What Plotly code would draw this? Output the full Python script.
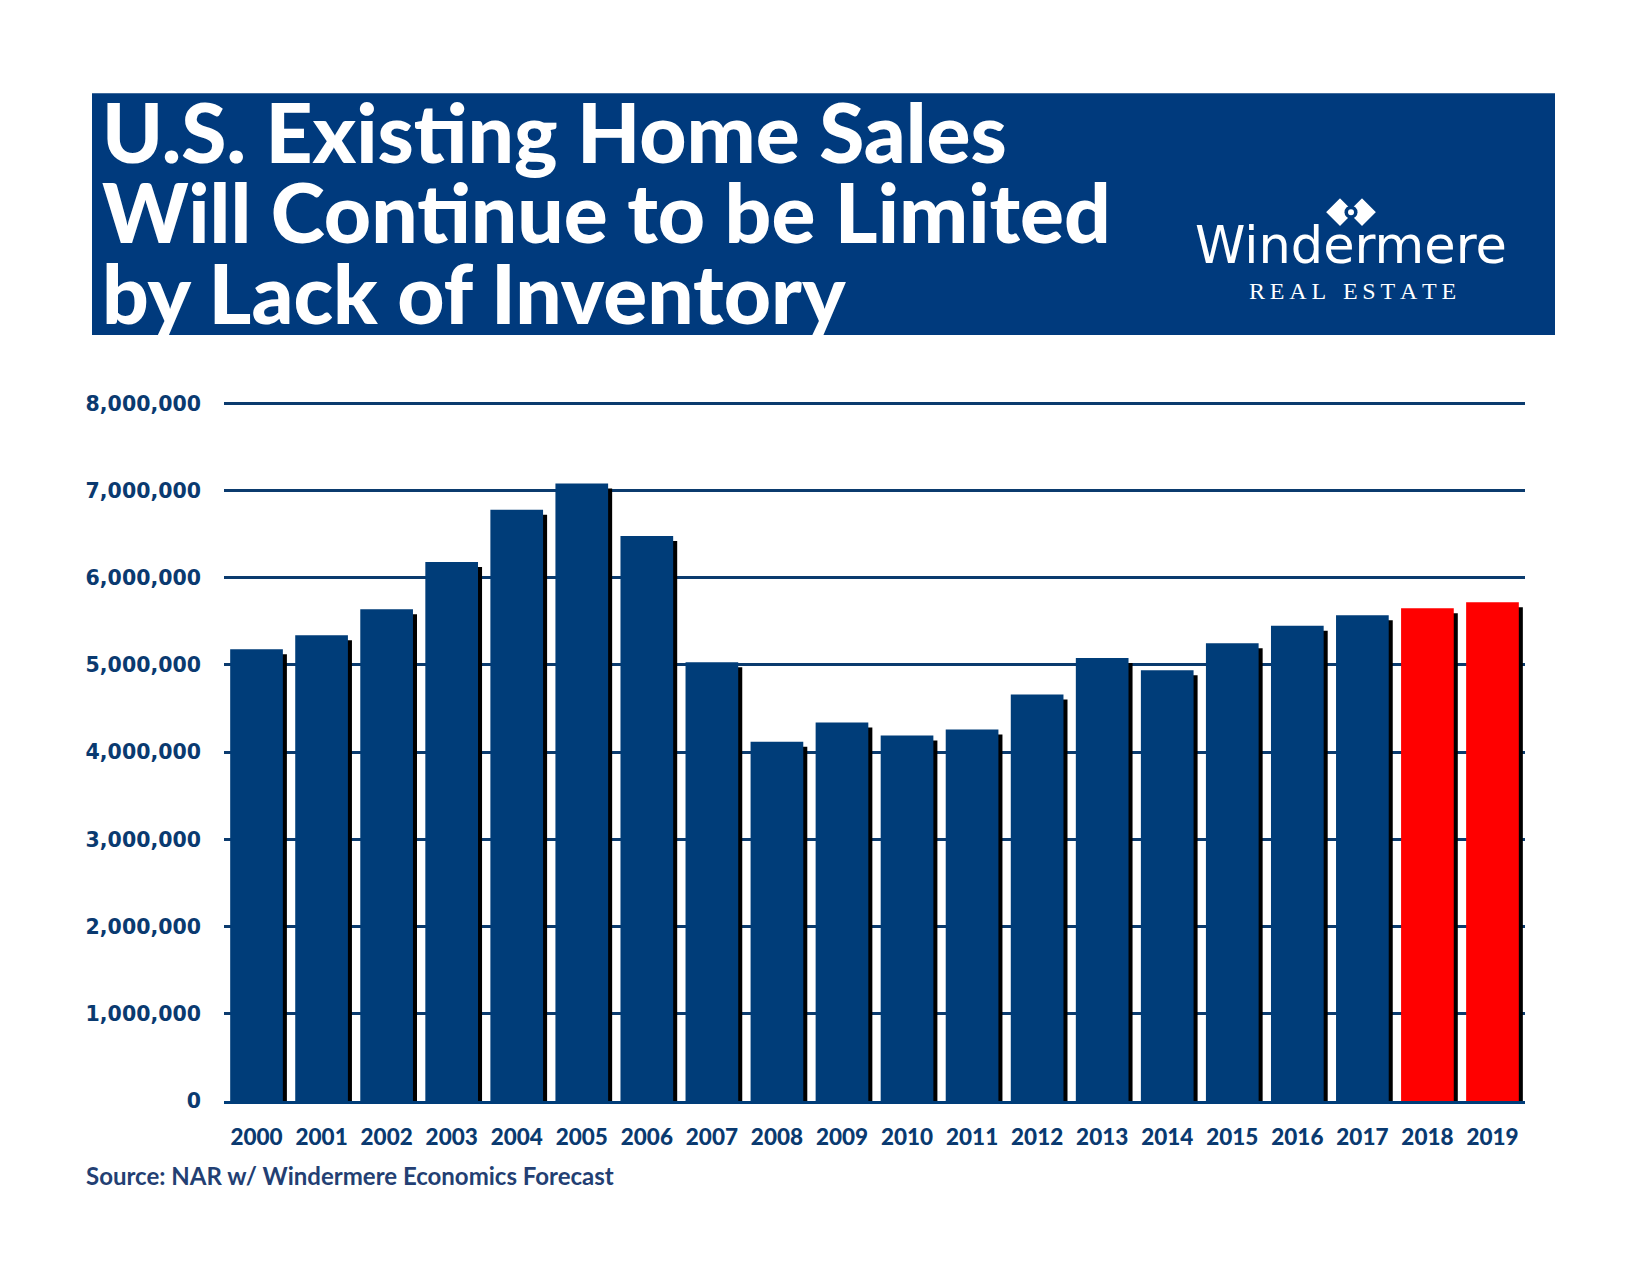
import plotly.graph_objects as go

# ---------------- data ----------------
years = ["2000", "2001", "2002", "2003", "2004", "2005", "2006", "2007", "2008", "2009",
         "2010", "2011", "2012", "2013", "2014", "2015", "2016", "2017", "2018", "2019"]
sales = [5180000, 5340000, 5640000, 6180000, 6780000, 7080000, 6480000, 5030000, 4120000, 4340000,
         4190000, 4260000, 4660000, 5080000, 4940000, 5250000, 5450000, 5570000, 5650000, 5720000]
forecast_years = ["2018", "2019"]
y_ticks = [0, 1000000, 2000000, 3000000, 4000000, 5000000, 6000000, 7000000, 8000000]

title_lines = ["U.S. Existing Home Sales", "Will Continue to be Limited", "by Lack of Inventory"]
source_text = "Source: NAR w/ Windermere Economics Forecast"

# ---------------- styling ----------------
NAVY = "#003d79"
BANNER = "#003a7d"
TEXT_NAVY = "#0a3a70"
RED = "#ff0000"

OFF = 8  # page body margin
W_FIG, H_FIG = 1650, 1275
L, R_EDGE, T, B = 224 - OFF, 1525 - OFF, 399 - OFF, 1101.5 - OFF
YMAX = 8050000
px_per_unit = (B - T) / YMAX
shadow_dx = 0.062  # category units
shadow_drop = 5 / px_per_unit


def px_x(x):
    return (x - OFF - L) / (R_EDGE - L)


def px_y(y):
    return (B - (y - OFF)) / (B - T)


colors = [RED if y in forecast_years else NAVY for y in years]

fig = go.Figure()
fig.add_trace(go.Bar(
    x=years, y=[v - shadow_drop for v in sales],
    width=0.81, offset=-0.405 + shadow_dx,
    marker=dict(color="#000000", line=dict(width=0)),
    hoverinfo="skip", showlegend=False,
))
fig.add_trace(go.Bar(
    x=years, y=sales,
    width=0.81, offset=-0.405,
    marker=dict(color=colors, line=dict(width=0)),
    showlegend=False,
))

shapes = [
    dict(type="rect", xref="paper", yref="paper",
         x0=px_x(92), x1=px_x(1555), y0=px_y(335), y1=px_y(93),
         fillcolor=BANNER, line=dict(width=0), layer="below"),
]


def diamond(cx, cy, hw, hh, color, line_color=None):
    path = (f"M {px_x(cx - hw)} {px_y(cy)} L {px_x(cx)} {px_y(cy - hh)} "
            f"L {px_x(cx + hw)} {px_y(cy)} L {px_x(cx)} {px_y(cy + hh)} Z")
    return dict(type="path", xref="paper", yref="paper", path=path,
                fillcolor=color,
                line=dict(width=1.5 if line_color else 0, color=line_color or color))


shapes.append(diamond(1362, 212, 15, 15, "white", BANNER))
shapes.append(diamond(1340, 212, 15, 15, "white", BANNER))
shapes.append(dict(type="circle", xref="paper", yref="paper",
                   x0=px_x(1344.5), x1=px_x(1357.5), y0=px_y(218.5), y1=px_y(205.5),
                   fillcolor=BANNER, line=dict(width=0)))
shapes.append(dict(type="circle", xref="paper", yref="paper",
                   x0=px_x(1348), x1=px_x(1354), y0=px_y(215), y1=px_y(209),
                   fillcolor="white", line=dict(width=0)))

annotations = []
title_centers = [131, 211, 292]
for line, cy in zip(title_lines, title_centers):
    annotations.append(dict(
        text=line, xref="paper", yref="paper", x=px_x(100), y=px_y(cy),
        xanchor="left", yanchor="middle", showarrow=False,
        font=dict(family="Lato", size=82, color="white", weight=900),
    ))

annotations.append(dict(
    text="Windermere", xref="paper", yref="paper", x=px_x(1351), y=px_y(245),
    xanchor="center", yanchor="middle", showarrow=False,
    font=dict(family="DejaVu Sans", size=51, color="white", weight=400),
))
annotations.append(dict(
    text="R\u2009E\u2009A\u2009L\u2002\u2009E\u2009S\u2009T\u2009A\u2009T\u2009E",
    xref="paper", yref="paper", x=px_x(1352), y=px_y(291),
    xanchor="center", yanchor="middle", showarrow=False,
    font=dict(family="Liberation Serif", size=24, color="white"),
))
annotations.append(dict(
    text=source_text, xref="paper", yref="paper", x=px_x(84), y=px_y(1176),
    xanchor="left", yanchor="middle", showarrow=False,
    font=dict(family="Lato", size=24, color="#233f73", weight=700),
))

fig.update_layout(
    width=W_FIG, height=H_FIG, autosize=False,
    margin=dict(l=L, r=W_FIG - R_EDGE, t=T, b=H_FIG - B, pad=0),
    paper_bgcolor="white", plot_bgcolor="white",
    barmode="overlay", bargap=0.19,
    shapes=shapes, annotations=annotations,
    xaxis=dict(
        type="category", showgrid=False, showline=True, linecolor=NAVY, linewidth=3,
        ticks="", ticklabelstandoff=14,
        tickfont=dict(family="Lato", size=22.5, color=TEXT_NAVY, weight=900),
        range=[-0.5, len(years) - 0.5],
    ),
    yaxis=dict(
        range=[0, YMAX], tickvals=y_ticks, tickformat=",",
        showgrid=True, gridcolor="#0b3b6e", gridwidth=2.5,
        zeroline=False, showline=False, ticks="", ticklabelstandoff=22,
        tickfont=dict(family="DejaVu Sans", size=20.5, color=TEXT_NAVY, weight=700),
    ),
)

fig.write_html("out.html")
